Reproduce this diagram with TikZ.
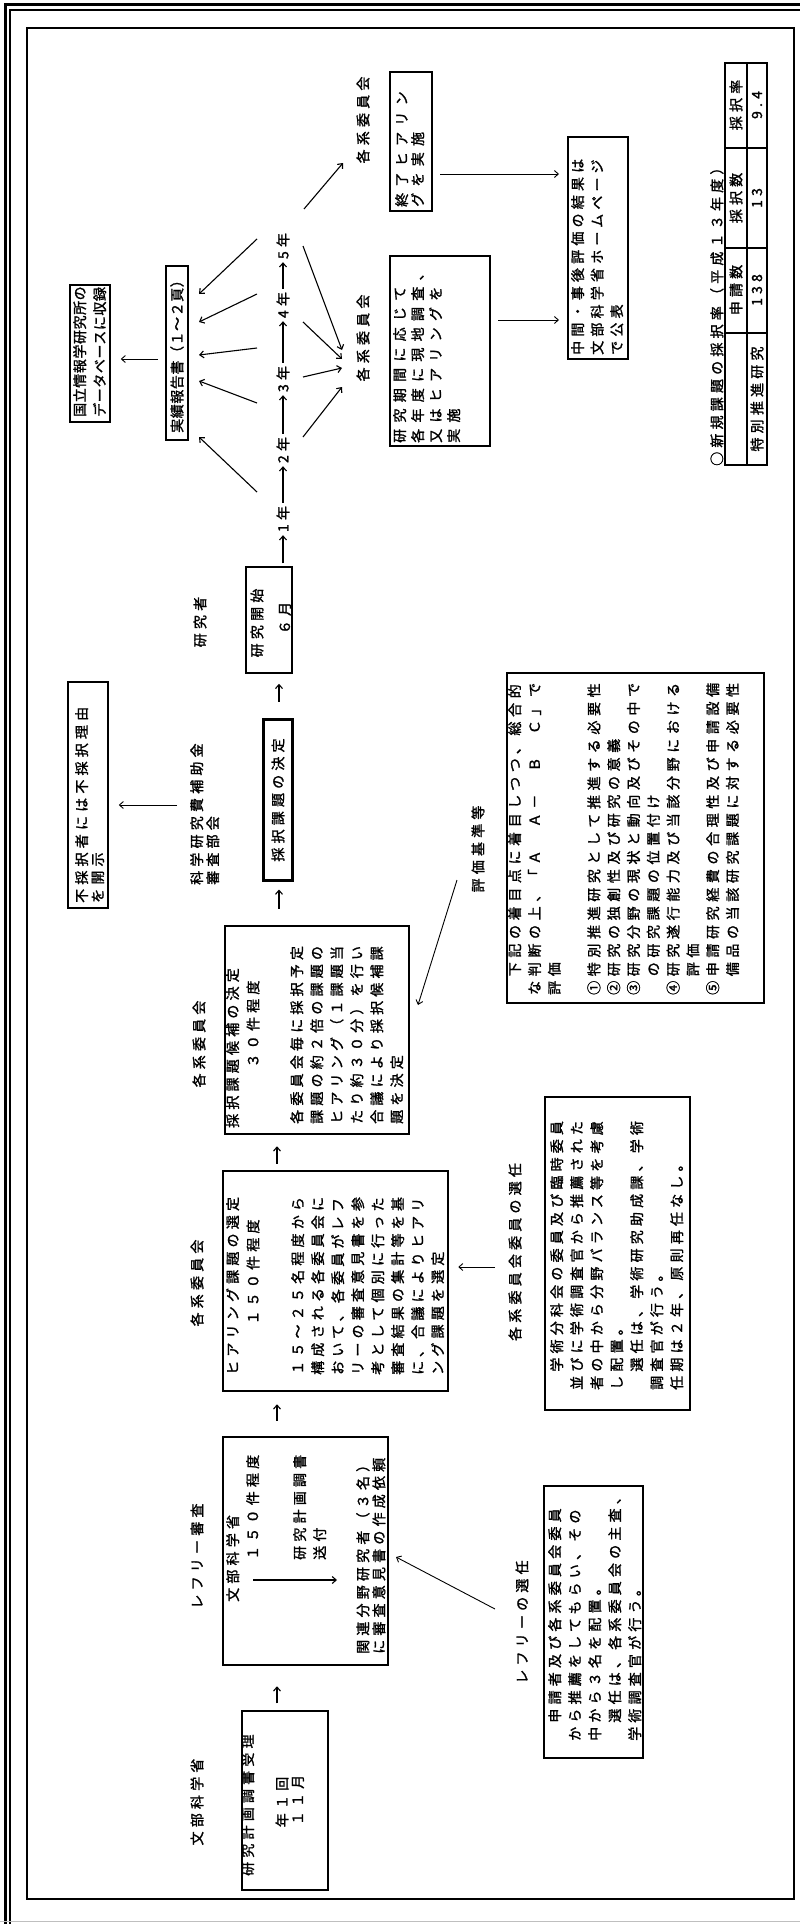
\documentclass[tikz,border=0pt]{standalone}
\usepackage{fontspec}
\newfontfamily\jp{Noto Sans CJK JP}[LetterSpace=30,FakeBold=1.5]
\newfontfamily\jpw{Noto Sans CJK JP}[LetterSpace=45,FakeBold=1.5]
\newfontfamily\jpt{Noto Sans CJK JP}[LetterSpace=4,FakeBold=1.5]
\newfontfamily\jpe{Noto Sans CJK JP}[LetterSpace=33,FakeBold=1.5]
\usetikzlibrary{arrows.meta,calc,fit}
\begin{document}
\begin{tikzpicture}[x=1pt,y=-1pt,
  tx/.style={rotate=90,inner sep=0pt,align=left,font=\jp\fontsize{14}{20}\selectfont},
  bx/.style={draw,inner sep=0pt,line width=2pt},
  arr/.style={-{Straight Barb[length=4pt,width=7pt]},line width=1.1pt},
  flow/.style={arr}]
\useasboundingbox (0,0) rectangle (800,1924);
\fill[white] (0,0) rectangle (800,1924);
% frame
\draw[line width=3pt] (5,1924) -- (5,5) -- (800,5);
\draw[line width=1.6pt] (10,1924) -- (10,10) -- (800,10);
\draw[line width=2.5pt] (27,28) rectangle (794,1899);
\draw[gray!50,line width=1pt] (0,1921) -- (800,1921);

% left labels
\node[tx] (l1) at (197,1802) {文部科学省};
\node[tx] (l2) at (197,1556) {レフリー審査};
\node[tx] (l3) at (197,1283) {各系委員会};
\node[tx] (l4) at (199,1044) {各系委員会};
\node[tx,anchor=north west,font=\jp\fontsize{14}{16}\selectfont] (l5) at (190,885) {科学研究費補助金\\審査部会};
\node[tx] (l6) at (200,622) {研究者};

% box 1
\node[bx,line width=1.5pt,fit={(242,1711) (328,1890)}] (b1) {};
\node[tx,anchor=north west] (b1a) at (241,1876) {研究計画調書受理};
\node[tx] (b1b) at (282,1802) {年１回};
\node[tx] (b1c) at (298,1800) {１１月};

% box 2
\node[bx,line width=2.5pt,fit={(223,1437) (388,1665)}] (b2) {};
\node[tx,anchor=north west] (b2a) at (226,1602) {文部科学省};
\node[tx,anchor=north west] (b2b) at (246,1560) {１５０件程度};
\coordinate (b2s) at (253,1580);
\coordinate (b2e) at (337,1580);
\draw[arr] (b2s) -- (b2e);
\node[tx,anchor=north west] (b2c) at (293,1560) {研究計画調書\\送付};
\node[tx,anchor=north west,font=\jp\fontsize{14}{16}\selectfont] (b2d) at (356,1654) {関連分野研究者（３名）\\に審査意見書の作成依頼};

% box 3
\node[bx,line width=2.5pt,fit={(223,1171) (448,1391)}] (b3) {};
\node[tx,anchor=north west] (b3a) at (226,1375) {ヒアリング課題の選定};
\node[tx] (b3b) at (253,1272) {１５０件程度};
\node[tx,anchor=north west] (b3c) at (291,1375) {１５～２５名程度から\\構成される各委員会に\\おいて、各委員がレフ\\リーの審査意見書を参\\考として個別に行った\\審査結果の集計等を基\\に、合議によりヒアリ\\ング課題を選定};

% box 4
\node[bx,line width=2.5pt,fit={(225,926) (409,1134)}] (b4) {};
\node[tx,anchor=north west] (b4a) at (226,1128) {採択課題候補の決定};
\node[tx] (b4b) at (253,1024) {３０件程度};
\node[tx,anchor=north west] (b4c) at (290,1124) {各委員会毎に採択予定\\課題の約２倍の課題の\\ヒアリング（１課題当\\たり約３０分）を行い\\合議により採択候補課\\題を決定};

% box 5
\node[bx,line width=3pt,fit={(263,719) (292,880)}] (b5) {};
\node[tx] (b5a) at (278,800) {採択課題の決定};

% box 6
\node[bx,line width=1.5pt,fit={(246,567) (292,673)}] (b6) {};
\node[tx] (b6a) at (257,623) {研究開始};
\node[tx] (b6b) at (285,618) {６月};

% flow arrows
\coordinate (ax) at (277,0);
\draw[flow,shorten <=7pt,shorten >=20pt] (b1.north -| ax) -- (b2.south -| ax);
\draw[flow,shorten <=15pt,shorten >=12pt] (b2.north -| ax) -- (b3.south -| ax);
\draw[flow,shorten <=6pt,shorten >=11pt] (b3.north -| ax) -- (b4.south -| ax);
\coordinate (ax2) at (279,0);
\draw[flow,shorten <=16pt,shorten >=8pt] (b4.north -| ax2) -- (b5.south -| ax2);
\draw[flow,shorten <=16pt,shorten >=10pt] (b5.north -| ax2) -- (b6.south -| ax2);

% not-adopted box
\node[bx,line width=1.5pt,fit={(68,682) (108,908)}] (nof) {};
\node[tx,anchor=north west,font=\jp\fontsize{14}{16}\selectfont] (nofa) at (75,903) {不採択者には不採択理由\\を開示};
\coordinate (k1) at (177,805);
\draw[arr,line width=0.9pt,shorten >=10pt] (k1) -- (k1 -| nof.east);

% years
\node[tx] (y1) at (283,519) {1年};
\node[tx] (y2) at (283,450) {2年};
\node[tx] (y3) at (283,379) {3年};
\node[tx] (y4) at (283,305) {4年};
\node[tx] (y5) at (283,246) {5年};
\coordinate (ay) at (283,0);
\draw[arr,shorten <=3pt,shorten >=3pt] (b6.north -| ay) -- (y1.west);
\draw[arr,shorten <=3pt,shorten >=3pt] (y1.east) -- (y2.west);
\draw[arr,shorten <=3pt,shorten >=3pt] (y2.east) -- (y3.west);
\draw[arr,shorten <=3pt,shorten >=3pt] (y3.east) -- (y4.west);
\draw[arr,shorten <=3pt,shorten >=3pt] (y4.east) -- (y5.west);

% report box
\node[bx,line width=1.5pt,fit={(166,266) (188,440)}] (rep) {};
\node[tx,font=\jpt\fontsize{14}{20}\selectfont] (repa) at (177,353) {実績報告書（１～２頁）};
\node[bx,line width=1.5pt,fit={(70,285) (110,422)}] (kok) {};
\node[tx,anchor=north west,font=\jpt\fontsize{14}{20}\selectfont] (koka) at (73,417) {国立情報学研究所の\\データベースに収録};
\coordinate (r0) at (158,359);
\draw[arr,line width=0.9pt,shorten >=10pt] (r0) -- (r0 -| kok.east);

% arrows years -> report
\coordinate (L1s) at (257,492); \coordinate (L1e) at (199,437);
\coordinate (L2s) at (257,403); \coordinate (L2e) at (199,381);
\coordinate (L3s) at (257,348); \coordinate (L3e) at (199,355);
\coordinate (L4s) at (257,294); \coordinate (L4e) at (199,322);
\coordinate (L5s) at (257,239); \coordinate (L5e) at (199,294);
\foreach \i in {1,...,5} {\draw[arr] (L\i s) -- (L\i e);}
% arrows years -> committees
\coordinate (R2s) at (303,437); \coordinate (R2e) at (342,387);
\coordinate (R3s) at (303,377); \coordinate (R3e) at (342,368);
\coordinate (R4s) at (303,322); \coordinate (R4e) at (342,359);
\coordinate (R5s) at (303,246); \coordinate (R5e) at (342,350);
\coordinate (R6s) at (304,209); \coordinate (R6e) at (343,163);
\foreach \i in {2,...,6} {\draw[arr] (R\i s) -- (R\i e);}

\node[tx] (k5a) at (363,338) {各系委員会};
\node[tx] (k5b) at (363,120) {各系委員会};

% end hearing box
\node[bx,line width=2.5pt,fit={(390,72) (432,211)}] (owa) {};
\node[tx,anchor=north west,font=\jpw\fontsize{14}{16}\selectfont] (owaa) at (395,207) {終了ヒアリン\\グを実施};
% period box
\node[bx,line width=2.5pt,fit={(390,256) (490,446)}] (kik) {};
\node[tx,anchor=north west,font=\jpw\fontsize{14}{18}\selectfont] (kika) at (393,443) {研究期間に応じて\\各年度に現地調査、\\又はヒアリングを\\実施};
% interim box
\node[bx,line width=2pt,fit={(568,137) (628,359)}] (chu) {};
\node[tx,anchor=north west,font=\jp\fontsize{14}{19.5}\selectfont] (chua) at (571,355) {中間・事後評価の結果は\\文部科学省ホームページ\\で公表};
\coordinate (a1) at (440,174);
\coordinate (a2) at (498,320);
\draw[arr,line width=0.9pt,shorten >=8pt] (a1) -- (a1 -| chu.west);
\draw[arr,line width=0.9pt,shorten >=8pt] (a2) -- (a2 -| chu.west);

% table
\node[tx,anchor=north west] (tt) at (710,466) {○新規課題の採択率（平成１３年度）};
\draw[line width=1.5pt] (725,63) rectangle (767,465);
\draw[line width=1.2pt] (747,63) -- (747,465);
\draw[line width=1.2pt] (725,148) -- (767,148);
\draw[line width=1.2pt] (725,248) -- (767,248);
\draw[line width=1.2pt] (725,333) -- (767,333);
\node[tx] (t1) at (736,290) {申請数};
\node[tx] (t2) at (736,198) {採択数};
\node[tx] (t3) at (736,105) {採択率};
\node[tx] (t4) at (757,399) {特別推進研究};
\node[tx] (t5) at (757,290) {138};
\node[tx] (t6) at (757,198) {13};
\node[tx] (t7) at (757,105) {9.4};

% evaluation criteria
\node[tx] (hl) at (478,849) {評価基準等};
\coordinate (hp1) at (457,880);
\coordinate (hp2) at (418,1005);
\draw[arr,line width=0.9pt] (hp1) -- (hp2);
\node[bx,line width=2pt,fit={(507,673) (764,1003)}] (hyo) {};
\node[tx,anchor=north west,font=\jpe\fontsize{14}{19.8}\selectfont] (hyoa) at (508,995) {　下記の着目点に着目しつつ、総合的\\な判断の上、「Ａ　Ａ－　Ｂ　Ｃ」で\\評価\\ \\①特別推進研究として推進する必要性\\②研究の独創性及び研究の意義\\③研究分野の現状と動向及びその中で\\　の研究課題の位置付け\\④研究遂行能力及び当該分野における\\　評価\\⑤申請研究経費の合理性及び申請設備\\　備品の当該研究課題に対する必要性};

% committee member selection
\node[tx] (sl) at (515,1252) {各系委員会委員の選任};
\coordinate (sp) at (495,1267);
\draw[arr,line width=0.9pt,shorten >=9pt] (sp) -- (sp -| b3.east);
\node[bx,line width=2pt,fit={(545,1097) (690,1410)}] (sen) {};
\node[tx,anchor=north west] (sena) at (550,1390) {　学術分科会の委員及び臨時委員\\並びに学術調査官から推薦された\\者の中から分野バランス等を考慮\\し配置。\\　選任は、学術研究助成課、学術\\調査官が行う。\\任期は２年、原則再任なし。};

% referee selection
\node[tx] (rl) at (522,1622) {レフリーの選任};
\coordinate (rp1) at (495,1609);
\coordinate (rp2) at (396,1557);
\draw[arr,line width=0.9pt] (rp1) -- (rp2);
\node[bx,line width=2pt,fit={(544,1486) (643,1758)}] (ref) {};
\node[tx,anchor=north west] (refa) at (548,1741) {　申請者及び各系委員会委員\\から推薦をしてもらい、その\\中から３名を配置。\\　選任は、各系委員会の主査、\\学術調査官が行う。};
\end{tikzpicture}
\end{document}
